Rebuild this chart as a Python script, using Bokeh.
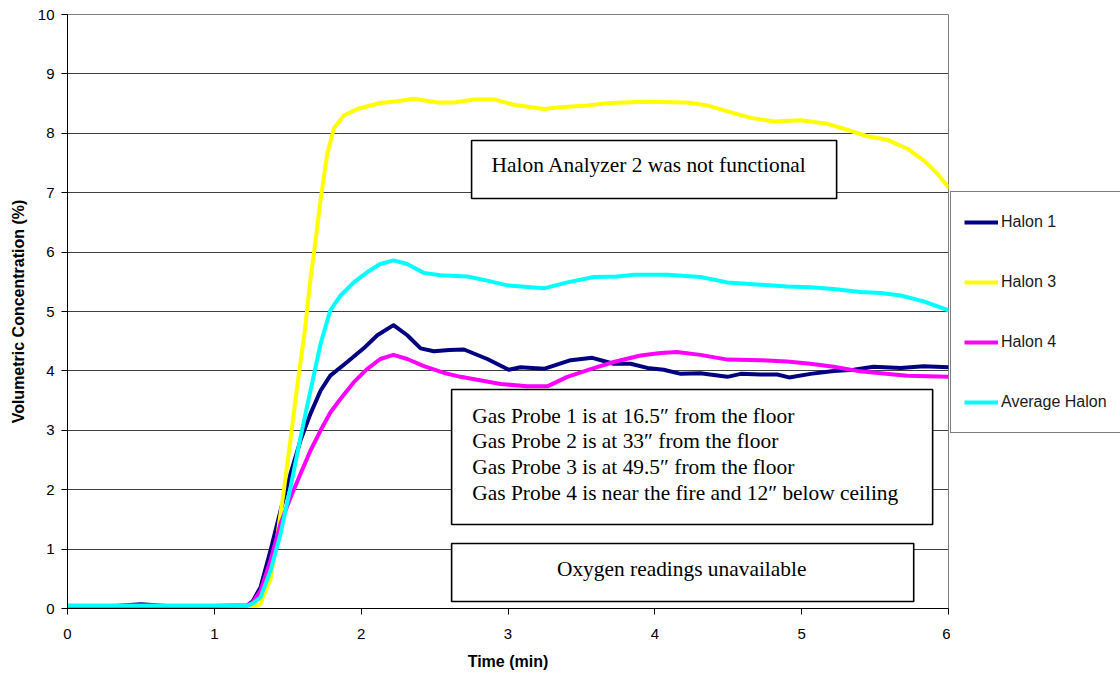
from bokeh.plotting import figure
from bokeh.layouts import row
from bokeh.models import (Range1d, SingleIntervalTicker, Legend, LegendItem,
                          BoxAnnotation, Label)
from bokeh.embed import file_html
from bokeh.resources import INLINE

# ---- data ----
t_h1 = [0, 0.3, 0.5, 0.7, 1.0, 1.224, 1.26, 1.315, 1.383, 1.451, 1.519, 1.587, 1.655, 1.724,
        1.79, 1.905, 2.017, 2.11, 2.22, 2.314, 2.405, 2.495, 2.60, 2.70, 2.859, 3.005,
        3.086, 3.245, 3.427, 3.574, 3.72, 3.835, 3.949, 4.06, 4.176, 4.31, 4.494, 4.585,
        4.72, 4.834, 4.914, 5.06, 5.218, 5.354, 5.49, 5.674, 5.83, 6.0]
v_h1 = [0.04, 0.04, 0.07, 0.04, 0.04, 0.05, 0.12, 0.36, 0.98, 1.65, 2.27, 2.83, 3.28, 3.67,
        3.92, 4.15, 4.38, 4.6, 4.77, 4.6, 4.38, 4.33, 4.35, 4.36, 4.2, 4.02,
        4.06, 4.035, 4.18, 4.22, 4.12, 4.12, 4.05, 4.02, 3.95, 3.96, 3.9, 3.95,
        3.94, 3.94, 3.89, 3.95, 4.0, 4.02, 4.07, 4.05, 4.08, 4.06]

t_h3 = [0, 0.5, 1.0, 1.224, 1.27, 1.315, 1.383, 1.428, 1.474, 1.519, 1.565, 1.615, 1.655, 1.69,
        1.723, 1.769, 1.814, 1.882, 1.973, 2.13, 2.245, 2.359, 2.518, 2.632, 2.768,
        2.904, 3.04, 3.245, 3.358, 3.54, 3.7, 3.926, 4.22, 4.357, 4.494, 4.653, 4.81,
        4.993, 5.175, 5.31, 5.447, 5.584, 5.72, 5.833, 5.924, 6.0]
v_h3 = [0.02, 0.02, 0.02, 0.01, 0.02, 0.08, 0.5, 1.2, 2.0, 2.85, 3.75, 4.65, 5.55, 6.2,
        6.87, 7.65, 8.08, 8.3, 8.41, 8.51, 8.54, 8.58, 8.52, 8.52, 8.57,
        8.57, 8.48, 8.41, 8.44, 8.47, 8.51, 8.53, 8.52, 8.47, 8.37, 8.26, 8.2,
        8.22, 8.16, 8.06, 7.95, 7.89, 7.74, 7.54, 7.32, 7.09]

t_h4 = [0, 0.5, 1.0, 1.224, 1.26, 1.315, 1.383, 1.451, 1.519, 1.587, 1.655, 1.724, 1.79, 1.86,
        1.95, 2.04, 2.13, 2.22, 2.314, 2.427, 2.56, 2.677, 2.79, 2.95, 3.13, 3.268,
        3.404, 3.563, 3.72, 3.903, 4.04, 4.15, 4.31, 4.494, 4.72, 4.9, 5.06, 5.218,
        5.38, 5.54, 5.72, 6.0]
v_h4 = [0.04, 0.04, 0.04, 0.05, 0.1, 0.3, 0.81, 1.43, 1.87, 2.27, 2.66, 3.0, 3.3, 3.53,
        3.81, 4.03, 4.2, 4.27, 4.2, 4.08, 3.97, 3.9, 3.85, 3.78, 3.74, 3.74,
        3.9, 4.03, 4.15, 4.26, 4.3, 4.32, 4.27, 4.19, 4.18, 4.16, 4.12, 4.07,
        4.0, 3.96, 3.92, 3.9]

t_avg = [0, 0.5, 1.0, 1.224, 1.26, 1.315, 1.383, 1.451, 1.519, 1.587, 1.655, 1.724, 1.79, 1.86,
         1.95, 2.04, 2.13, 2.22, 2.314, 2.427, 2.54, 2.723, 2.859, 2.995, 3.245, 3.404,
         3.585, 3.745, 3.857, 4.085, 4.31, 4.494, 4.72, 4.9, 5.06, 5.218, 5.4, 5.54,
         5.674, 5.83, 6.0]
v_avg = [0.05, 0.05, 0.05, 0.05, 0.08, 0.19, 0.64, 1.26, 2.04, 2.88, 3.67, 4.46, 5.02, 5.27,
         5.49, 5.66, 5.8, 5.86, 5.8, 5.65, 5.61, 5.59, 5.52, 5.44, 5.39, 5.49,
         5.58, 5.59, 5.62, 5.62, 5.58, 5.49, 5.45, 5.42, 5.41, 5.38, 5.33, 5.31,
         5.27, 5.17, 5.02]

series_names = ["Halon 1", "Halon 3", "Halon 4", "Average Halon"]
series_colors = ["#000080", "#FFFF00", "#FF00FF", "#00FFFF"]
series_t = [t_h1, t_h3, t_h4, t_avg]
series_v = [v_h1, v_h3, v_h4, v_avg]

x_ticks_interval = 1
y_ticks_interval = 1

note_top = "Halon Analyzer 2 was not functional"
note_probes = ["Gas Probe 1 is at 16.5\u2033 from the floor",
               "Gas Probe 2 is at 33\u2033 from the floor",
               "Gas Probe 3 is at 49.5\u2033 from the floor",
               "Gas Probe 4 is near the fire and 12\u2033 below ceiling"]
note_oxygen = "Oxygen readings unavailable"

H = 672

# ---- main figure ----
p = figure(width=950, height=H, x_range=Range1d(0, 6), y_range=Range1d(0, 10),
           output_backend="svg", toolbar_location=None,
           min_border_left=67, min_border_right=2, min_border_top=14, min_border_bottom=64)
p.background_fill_color = "white"
p.border_fill_color = "white"
p.outline_line_color = "#808080"
p.outline_line_width = 1

p.xgrid.grid_line_color = None
p.ygrid.grid_line_color = "#404040"
p.ygrid.grid_line_width = 1

p.xaxis.ticker = SingleIntervalTicker(interval=x_ticks_interval)
p.yaxis.ticker = SingleIntervalTicker(interval=y_ticks_interval)
p.ygrid.ticker = SingleIntervalTicker(interval=y_ticks_interval)

for ax in (p.xaxis[0], p.yaxis[0]):
    ax.axis_line_color = "black"
    ax.axis_line_width = 1
    ax.major_tick_line_color = "black"
    ax.major_tick_in = 0
    ax.major_tick_out = 6
    ax.minor_tick_line_color = None
    ax.major_label_text_font = "Liberation Sans"
    ax.major_label_text_font_size = "15px"
    ax.major_label_text_color = "black"
    ax.axis_label_text_font = "Liberation Sans"
    ax.axis_label_text_font_size = "16px"
    ax.axis_label_text_font_style = "bold"
    ax.axis_label_text_color = "black"

p.xaxis.axis_label = "Time (min)"
p.yaxis.axis_label = "Volumetric Concentration (%)"
p.xaxis.major_label_standoff = 14
p.yaxis.major_label_standoff = 7
p.xaxis.axis_label_standoff = 11
p.yaxis.axis_label_standoff = 8

for tx, vy, col in zip(series_t, series_v, series_colors):
    p.line(tx, vy, line_color=col, line_width=4, line_join="round", line_cap="round")

# ---- notes ----
def add_box(l, r, t, b):
    p.add_layout(BoxAnnotation(left=l, right=r, top=t, bottom=b, fill_color="white",
                               fill_alpha=1, line_color="black", line_width=1.6,
                               line_alpha=1))

add_box(2.752, 5.238, 7.879, 6.902)
add_box(2.616, 5.892, 3.687, 1.414)
add_box(2.616, 5.763, 1.094, 0.118)

serif = "Liberation Serif"
fs = "21.4px"
p.add_layout(Label(x=2.888, y=7.458, text=note_top, text_font=serif, text_font_size=fs,
                   text_baseline="middle", text_align="left", text_color="black"))
for i, line in enumerate(note_probes):
    p.add_layout(Label(x=2.757, y=3.249 - i * 0.436, text=line, text_font=serif,
                       text_font_size=fs, text_baseline="middle", text_align="left",
                       text_color="black"))
p.add_layout(Label(x=4.183, y=0.673, text=note_oxygen, text_font=serif, text_font_size=fs,
                   text_baseline="middle", text_align="center", text_color="black"))

# ---- legend panel (separate canvas to the right of the plot area) ----
lg = figure(width=170, height=H, x_range=Range1d(100, 101), y_range=Range1d(100, 101),
            output_backend="svg", toolbar_location=None,
            x_axis_location=None, y_axis_location=None,
            min_border_left=0, min_border_right=0, min_border_top=0, min_border_bottom=0)
lg.grid.visible = False
lg.outline_line_color = None
lg.background_fill_color = "white"
lg.border_fill_color = "white"

leg_renderers = []
for tx, vy, col in zip(series_t, series_v, series_colors):
    leg_renderers.append(lg.line(tx, vy, line_color=col, line_width=4))

legend = Legend(items=[LegendItem(label=n, renderers=[r])
                       for n, r in zip(series_names, leg_renderers)],
                location=(0, 175))
legend.border_line_color = "black"
legend.border_line_width = 1
legend.background_fill_color = "white"
legend.background_fill_alpha = 1
legend.label_text_font = "Liberation Sans"
legend.label_text_font_size = "16px"
legend.label_text_color = "#1a1a1a"
legend.glyph_width = 34
legend.glyph_height = 34
legend.label_height = 34
legend.label_width = 170
legend.spacing = 26
legend.padding = 13
legend.label_standoff = 3
legend.margin = 0
lg.add_layout(legend)

layout = row(p, lg)
layout.spacing = 0

open("out.html", "w").write(file_html(layout, INLINE))
